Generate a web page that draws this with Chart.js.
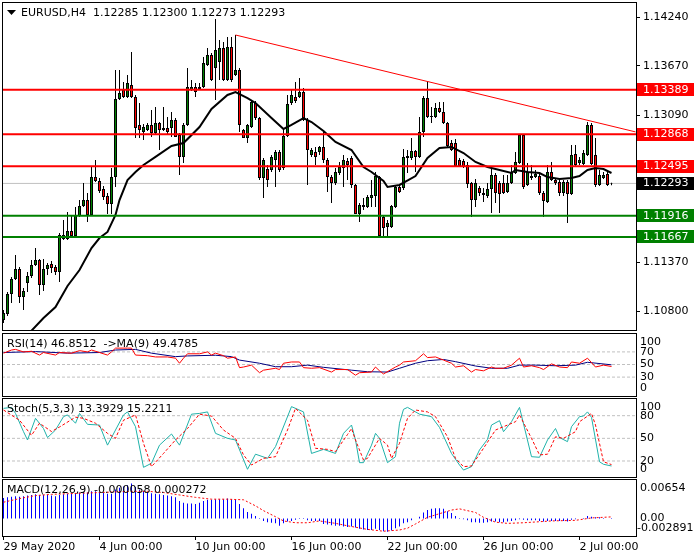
<!DOCTYPE html>
<html>
<head>
<meta charset="utf-8">
<title>EURUSD,H4</title>
<script src="https://cdn.jsdelivr.net/npm/chart.js@4.4.1/dist/chart.umd.min.js"></script>
<style>
  html, body { margin: 0; padding: 0; background: #fff; }
  body { position: relative; width: 700px; height: 560px; overflow: hidden; }
  canvas { position: absolute; left: 0; }
</style>
</head>
<body>
<canvas id="mainChart" width="700" height="332" style="top:0px"></canvas>
<canvas id="rsiChart" width="700" height="65" style="top:332px"></canvas>
<canvas id="stochChart" width="700" height="81" style="top:397px"></canvas>
<canvas id="macdChart" width="700" height="82" style="top:478px"></canvas>
<script>
/* =========================================================
   DATA  (one entry per H4 bar, bar 0 = 29 May 2020 00:00)
========================================================= */
const symbol = "EURUSD,H4";

const opens = [
  1.10695, 1.10765, 1.10999, 1.11175, 1.11292, 1.10964, 1.11128, 1.11210, 1.11338, 1.11397,
  1.11105, 1.11292, 1.11350, 1.11315, 1.11257, 1.11643, 1.11643, 1.11736, 1.11678, 1.11912,
  1.12029, 1.12099, 1.11924, 1.12368, 1.12322, 1.12228, 1.12146, 1.12052, 1.12368, 1.13281,
  1.13386, 1.13304, 1.13445, 1.13304, 1.12977, 1.12895, 1.12918, 1.12977, 1.12883, 1.13000,
  1.12918, 1.12941, 1.12941, 1.13035, 1.12860, 1.12603, 1.12977, 1.13386, 1.13421, 1.13398,
  1.13421, 1.13679, 1.13796, 1.13643, 1.13714, 1.13877, 1.13503, 1.13889, 1.13562, 1.13620,
  1.12918, 1.12825, 1.12953, 1.13234, 1.13058, 1.12357, 1.12462, 1.12450, 1.12567, 1.12661,
  1.12474, 1.12848, 1.13234, 1.13304, 1.13304, 1.13363, 1.13035, 1.12626, 1.12661, 1.12661,
  1.12720, 1.12567, 1.12368, 1.12298, 1.12415, 1.12474, 1.12556, 1.12591, 1.12275, 1.11935,
  1.12017, 1.12017, 1.12123, 1.12146, 1.12368, 1.11900, 1.11783, 1.11783, 1.12017, 1.12251,
  1.12240, 1.12591, 1.12591, 1.12673, 1.12603, 1.12895, 1.13292, 1.13082, 1.13070, 1.13175,
  1.13129, 1.13000, 1.12766, 1.12766, 1.12567, 1.12556, 1.12509, 1.12298, 1.12099, 1.12240,
  1.12181, 1.12146, 1.12228, 1.12392, 1.12298, 1.12298, 1.12193, 1.12298, 1.12415, 1.12532,
  1.12860, 1.12275, 1.12357, 1.12368, 1.12380, 1.12181, 1.12076, 1.12427, 1.12333, 1.12310,
  1.12181, 1.12310, 1.12169, 1.12638, 1.12532, 1.12521, 1.12626, 1.12977, 1.12626, 1.12275,
  1.12357, 1.12403, 1.12285
];
const highs = [
  1.10812, 1.11023, 1.11198, 1.11455, 1.11315, 1.11070, 1.11257, 1.11397, 1.11537, 1.11409,
  1.11409, 1.11362, 1.11385, 1.11338, 1.11713, 1.11865, 1.11959, 1.11924, 1.12017, 1.12099,
  1.12298, 1.12181, 1.12485, 1.12567, 1.12357, 1.12263, 1.12181, 1.12474, 1.13620, 1.13620,
  1.13480, 1.13562, 1.13831, 1.13328, 1.13234, 1.12988, 1.13000, 1.13152, 1.13187, 1.13012,
  1.13187, 1.13070, 1.13129, 1.13058, 1.12883, 1.13000, 1.13643, 1.13503, 1.13468, 1.13468,
  1.13772, 1.13877, 1.13819, 1.14217, 1.13971, 1.13948, 1.14006, 1.14006, 1.14030, 1.13643,
  1.12930, 1.12988, 1.13269, 1.13257, 1.13070, 1.12591, 1.12509, 1.12626, 1.12684, 1.12684,
  1.12941, 1.13328, 1.13386, 1.13480, 1.13526, 1.13410, 1.13058, 1.12708, 1.12720, 1.12731,
  1.12918, 1.12591, 1.12392, 1.12474, 1.12544, 1.12626, 1.12591, 1.12614, 1.12286, 1.12064,
  1.12123, 1.12158, 1.12333, 1.12427, 1.12380, 1.11924, 1.11865, 1.12041, 1.12275, 1.12275,
  1.12696, 1.12684, 1.12825, 1.12684, 1.13070, 1.13316, 1.13480, 1.13187, 1.13234, 1.13246,
  1.13246, 1.13012, 1.12801, 1.12813, 1.12591, 1.12579, 1.12544, 1.12310, 1.12345, 1.12263,
  1.12240, 1.12298, 1.12485, 1.12415, 1.12322, 1.12392, 1.12392, 1.12509, 1.12661, 1.12871,
  1.12871, 1.12532, 1.12509, 1.12450, 1.12403, 1.12205, 1.12509, 1.12544, 1.12357, 1.12333,
  1.12333, 1.12333, 1.12743, 1.12743, 1.12603, 1.12684, 1.13012, 1.13000, 1.12825, 1.12450,
  1.12427, 1.12450, 1.12300
];
const lows = [
  1.10660, 1.10742, 1.10894, 1.11163, 1.10894, 1.10812, 1.11023, 1.11187, 1.11327, 1.10988,
  1.11034, 1.11222, 1.11245, 1.11222, 1.11140, 1.11631, 1.11631, 1.11666, 1.11666, 1.11900,
  1.12017, 1.11842, 1.11912, 1.12310, 1.12181, 1.12099, 1.11935, 1.11935, 1.12251, 1.13269,
  1.13292, 1.13292, 1.13292, 1.12825, 1.12825, 1.12801, 1.12906, 1.12836, 1.12871, 1.12684,
  1.12906, 1.12860, 1.12836, 1.12836, 1.12392, 1.12532, 1.12965, 1.13374, 1.13304, 1.13386,
  1.13410, 1.13667, 1.13491, 1.13269, 1.13503, 1.13491, 1.13491, 1.13480, 1.13550, 1.12895,
  1.12825, 1.12766, 1.12941, 1.13035, 1.12333, 1.12123, 1.12251, 1.12427, 1.12251, 1.12427,
  1.12450, 1.12836, 1.13211, 1.13234, 1.13292, 1.13023, 1.12275, 1.12603, 1.12509, 1.12626,
  1.12532, 1.12193, 1.12064, 1.12275, 1.12392, 1.12251, 1.12333, 1.12240, 1.11935, 1.11842,
  1.11982, 1.12006, 1.12017, 1.12017, 1.11678, 1.11678, 1.11678, 1.11771, 1.12006, 1.12181,
  1.12216, 1.12415, 1.12567, 1.12427, 1.12591, 1.12836, 1.13058, 1.13000, 1.13058, 1.13117,
  1.12988, 1.12720, 1.12673, 1.12485, 1.12485, 1.12474, 1.12240, 1.11900, 1.12017, 1.12146,
  1.12076, 1.12123, 1.11947, 1.12064, 1.11947, 1.12169, 1.12181, 1.12286, 1.12403, 1.12521,
  1.12228, 1.12263, 1.12333, 1.12357, 1.12158, 1.11900, 1.12064, 1.12322, 1.12275, 1.12146,
  1.12146, 1.11830, 1.12158, 1.12497, 1.12509, 1.12509, 1.12614, 1.12509, 1.12251, 1.12263,
  1.12345, 1.12263, 1.12273
];
const closes = [
  1.10777, 1.10999, 1.11175, 1.11292, 1.10964, 1.11034, 1.11210, 1.11338, 1.11397, 1.11105,
  1.11292, 1.11338, 1.11303, 1.11257, 1.11690, 1.11690, 1.11736, 1.11678, 1.11912, 1.12029,
  1.12099, 1.11924, 1.12368, 1.12322, 1.12205, 1.12134, 1.12052, 1.12368, 1.13281, 1.13351,
  1.13304, 1.13468, 1.13304, 1.12941, 1.12918, 1.12953, 1.12977, 1.12883, 1.13000, 1.12918,
  1.12941, 1.12895, 1.13035, 1.12836, 1.12603, 1.12977, 1.13421, 1.13421, 1.13363, 1.13421,
  1.13702, 1.13796, 1.13503, 1.13854, 1.13877, 1.13503, 1.13889, 1.13503, 1.13620, 1.12977,
  1.12825, 1.12977, 1.13246, 1.13058, 1.12357, 1.12567, 1.12333, 1.12603, 1.12661, 1.12450,
  1.12848, 1.13222, 1.13328, 1.13257, 1.13363, 1.13035, 1.12684, 1.12684, 1.12603, 1.12720,
  1.12567, 1.12368, 1.12298, 1.12427, 1.12485, 1.12567, 1.12509, 1.12275, 1.11935, 1.12041,
  1.12041, 1.12134, 1.12158, 1.12380, 1.11678, 1.11771, 1.11830, 1.12029, 1.12251, 1.12193,
  1.12603, 1.12614, 1.12673, 1.12603, 1.12895, 1.13292, 1.13070, 1.13070, 1.13175, 1.13129,
  1.13000, 1.12731, 1.12684, 1.12497, 1.12497, 1.12485, 1.12286, 1.12099, 1.12298, 1.12181,
  1.12158, 1.12228, 1.12392, 1.12181, 1.12169, 1.12181, 1.12298, 1.12415, 1.12544, 1.12860,
  1.12251, 1.12427, 1.12380, 1.12403, 1.12181, 1.12087, 1.12427, 1.12333, 1.12298, 1.12181,
  1.12310, 1.12169, 1.12626, 1.12509, 1.12567, 1.12649, 1.12977, 1.12521, 1.12275, 1.12392,
  1.12392, 1.12275, 1.12293
];

// moving average on price (black line), read at these bars
const maBars = [7, 10, 13, 16, 19, 22, 24, 26, 28, 29, 31, 33, 35, 38, 42, 45, 49, 52, 56, 58,
  61, 63, 67, 70, 72, 75, 77, 80, 83, 87, 90, 92, 95, 96, 99, 103, 106, 109, 112, 115,
  118, 121, 123, 127, 128, 131, 134, 136, 139, 142, 144, 146, 148, 150, 152];
const maPrices = [1.10570, 1.10718, 1.10847, 1.11093, 1.11280, 1.11537, 1.11654, 1.11725, 1.11924, 1.12099,
  1.12333, 1.12427, 1.12509, 1.12603, 1.12731, 1.12766, 1.12953, 1.13164, 1.13328, 1.13363,
  1.13292, 1.13234, 1.13058, 1.12930, 1.12977, 1.13058, 1.13012, 1.12906, 1.12778, 1.12684,
  1.12485, 1.12427, 1.12322, 1.12251, 1.12275, 1.12380, 1.12591, 1.12708, 1.12720, 1.12649,
  1.12544, 1.12485, 1.12462, 1.12415, 1.12450, 1.12427, 1.12415, 1.12368, 1.12345, 1.12357,
  1.12380, 1.12450, 1.12474, 1.12462, 1.12415];

const trendBars = [58, 158];
const trendPrices = [1.14030, 1.12896];
const resistLevels = [1.13389, 1.12868, 1.12495];
const supportLevels = [1.11916, 1.11667];
const bidPrice = 1.12293;
const priceTicks = [1.14240, 1.13670, 1.13090, 1.11370, 1.10800];

const timeTickBars = [0, 24, 48, 72, 96, 120, 144];
const timeLabels = ["29 May 2020", "4 Jun 00:00", "10 Jun 00:00", "16 Jun 00:00", "22 Jun 00:00", "26 Jun 00:00", "2 Jul 00:00"];

// RSI(14) and its MA(9)
const rsiBars = [0, 2, 3, 5, 7, 9, 10, 13, 14, 17, 19, 21, 22, 24, 26, 27, 28, 31, 32, 33,
  36, 38, 41, 43, 44, 45, 46, 49, 51, 52, 53, 55, 56, 58, 59, 60, 62, 64, 65, 68,
  69, 70, 72, 74, 75, 77, 79, 82, 83, 86, 88, 89, 92, 93, 94, 95, 98, 99, 100, 103,
  105, 106, 108, 110, 112, 113, 115, 117, 118, 120, 122, 123, 125, 127, 129, 130, 132, 134, 135, 137,
  139, 141, 142, 144, 146, 148, 150, 152];
const rsiVals = [68, 73, 74, 70, 71, 65, 69, 65, 69, 68, 72, 70, 73, 69, 65, 70, 76, 76, 76, 65,
  64, 62, 62, 60, 52, 60, 67, 67, 70, 65, 68, 64, 60, 62, 45, 46, 49, 37, 41, 44,
  42, 52, 54, 54, 45, 44, 45, 38, 42, 42, 33, 37, 38, 46, 40, 35, 46, 49, 54, 56,
  67, 61, 62, 57, 52, 46, 48, 38, 42, 40, 46, 44, 44, 49, 60, 46, 48, 45, 42, 51,
  46, 45, 54, 52, 60, 46, 49, 46.85];
const rsiMaBars = [0, 8, 16, 24, 28, 33, 37, 43, 46, 53, 57, 59, 64, 68, 72, 76, 80, 87, 91, 96,
  99, 103, 106, 110, 113, 118, 122, 126, 129, 133, 138, 143, 146, 152];
const rsiMaVals = [69, 70.5, 68, 69, 73, 74, 68, 62.5, 63.6, 64.7, 62.5, 57, 52, 46.5, 46.5, 49, 45.5, 41, 38.5, 38,
  44, 52, 56, 58, 54.5, 47.6, 44, 44, 49, 49, 48, 49, 53.5, 49.48];
const rsiLevels = [70, 50, 30];

// Stochastic(5,3,3)
const stochBars = [0, 2, 3, 5, 6, 8, 10, 11, 13, 15, 16, 18, 19, 21, 24, 26, 28, 30, 31, 33,
  35, 37, 39, 42, 44, 47, 49, 51, 53, 56, 58, 61, 63, 66, 68, 72, 75, 77, 80, 83,
  85, 87, 88, 89, 90, 92, 93, 94, 96, 98, 99, 100, 101, 104, 107, 109, 112, 114, 115, 117,
  119, 121, 122, 124, 125, 127, 129, 132, 134, 136, 138, 139, 141, 142, 144, 145, 146, 147, 149, 150,
  152];
const stochMain = [89.7, 91, 83, 58.8, 47.8, 76.5, 63, 51, 61, 78.7, 81, 70, 83, 68.5, 67.6, 41, 61, 81, 85, 65.4,
  11.6, 17, 41, 55.7, 41, 82, 83, 85, 56.6, 50, 47.8, 9, 29, 23.5, 39, 92, 85, 30, 35.4, 30,
  56.6, 67.6, 47.8, 17.8, 17.8, 41, 56.6, 50, 17.8, 25.7, 70, 88.4, 91, 82, 78.7, 64.5, 30, 14.7, 8, 12.5,
  34.6, 48.7, 67.6, 73.4, 58.8, 72, 91, 25.7, 24.9, 47.8, 63, 51, 45.6, 65.4, 78.7, 79.5, 85, 77.8, 19, 15.6,
  13.39];
const stochSigBars = [0, 4, 7, 9, 12, 14, 18, 20, 23, 26, 28, 30, 33, 35, 37, 40, 43, 46, 49, 52,
  55, 58, 60, 62, 65, 68, 71, 73, 76, 78, 81, 83, 86, 87, 88, 90, 91, 94, 96, 97,
  99, 101, 103, 106, 108, 111, 113, 115, 117, 120, 123, 126, 128, 129, 132, 134, 136, 138, 140, 143,
  144, 147, 148, 150, 152];
const stochSig = [87.5, 74, 54, 70, 59, 65, 78, 76.5, 70, 56.6, 50, 74, 81, 43.4, 12.5, 30, 47.8, 63, 82, 79.5,
  61, 50, 28, 14.7, 23.5, 25.7, 61, 89.7, 74, 36.8, 35.4, 32.4, 55, 63, 47.8, 21.3, 23.5, 50, 41, 23.5,
  43.4, 76.5, 87.5, 85, 78.7, 52, 23.5, 12.5, 13.4, 36.8, 61, 67.6, 72, 81, 50, 28, 29, 52, 50, 58.8,
  72, 83, 67.6, 19, 15.22];
const stochLevels = [80, 50, 20];

// MACD(12,26,9): main as histogram (every bar), signal dotted
const macdHist = [
  0.0034, 0.0035, 0.0036, 0.0037, 0.0036, 0.0037, 0.0038, 0.0039, 0.0040, 0.0039,
  0.0039, 0.0039, 0.0038, 0.0037, 0.0039, 0.0040, 0.0041, 0.0041, 0.0042, 0.0043,
  0.0044, 0.0043, 0.0045, 0.0045, 0.0044, 0.0043, 0.0041, 0.0041, 0.0048, 0.0051,
  0.0053, 0.0055, 0.0058, 0.0052, 0.0048, 0.0046, 0.0044, 0.0042, 0.0041, 0.0040,
  0.0039, 0.0038, 0.0037, 0.0035, 0.0029, 0.0026, 0.0025, 0.0025, 0.0024, 0.0026,
  0.0029, 0.0031, 0.0031, 0.0032, 0.0032, 0.0032, 0.0033, 0.0032, 0.0032, 0.0024,
  0.0017, 0.0011, 0.0008, 0.0004, 0.0001, -0.0004, -0.0006, -0.0007, -0.0008, -0.0012,
  -0.0008, -0.0005, -0.0004, -0.0002, 0.0001, 0.0001, -0.0003, -0.0004, -0.0004, -0.0004,
  -0.0009, -0.0010, -0.0011, -0.0012, -0.0012, -0.0013, -0.0014, -0.0013, -0.0015, -0.0017,
  -0.0018, -0.0019, -0.0019, -0.0017, -0.0019, -0.0021, -0.0022, -0.0020, -0.0016, -0.0013,
  -0.0008, -0.0006, -0.0003, 0.0000, 0.0003, 0.0010, 0.0014, 0.0016, 0.0017, 0.0017,
  0.0016, 0.0012, 0.0009, 0.0004, 0.0001, -0.0001, -0.0003, -0.0006, -0.0006, -0.0007,
  -0.0007, -0.0006, -0.0005, -0.0005, -0.0006, -0.0006, -0.0005, -0.0004, -0.0003, -0.0001,
  -0.0002, -0.0003, -0.0003, -0.0003, -0.0004, -0.0005, -0.0004, -0.0004, -0.0004, -0.0004,
  -0.0004, -0.0005, -0.0002, -0.0001, 0.0000, 0.0001, 0.0004, 0.0003, 0.0002, 0.0002,
  0.0001, 0.0000, -0.000058
];
const macdSigBars = [0, 4, 8, 12, 16, 20, 24, 28, 32, 36, 40, 44, 48, 52, 56, 60, 63, 65, 68, 70,
  73, 76, 79, 83, 86, 91, 95, 99, 101, 103, 106, 108, 112, 114, 118, 120, 123, 126, 130, 137,
  143, 147, 152];
const macdSig = [0.0027, 0.0033, 0.0038, 0.0040, 0.0041, 0.0042, 0.0043, 0.0044, 0.0045, 0.0045,
  0.0043, 0.0039, 0.0035, 0.0032, 0.0032, 0.0031, 0.0021, 0.0013, 0.0003, -0.0004,
  -0.0007, -0.0007, -0.0004, -0.0008, -0.0012, -0.0018, -0.0021, -0.0019, -0.0016, -0.0009,
  0.0002, 0.0006, 0.0014, 0.0016, 0.0010, 0.0002, -0.0006, -0.0008, -0.0007, -0.0004,
  -0.0003, 0.0001, 0.000272];

/* =========================================================
   SHARED SETUP
========================================================= */
Chart.defaults.font.family = "'DejaVu Sans', sans-serif";
Chart.defaults.font.size = 11;
Chart.defaults.color = "#000";

const X_MIN = -0.375;
const X_MAX = 158.125;
const FONT = "11px 'DejaVu Sans'";

const pts = (xs, ys) => xs.map((x, i) => ({ x, y: ys[i] }));
const hline = v => [{ x: X_MIN, y: v }, { x: X_MAX, y: v }];
const barIdx = opens.map((_, i) => i);

const hiddenX = { type: "linear", min: X_MIN, max: X_MAX, offset: false, display: false, grid: { offset: false } };

function baseOptions(padding, scales, panel) {
    return {
        responsive: false,
        animation: false,
        events: [],
        layout: { padding },
        elements: { point: { radius: 0 }, line: { tension: 0, fill: false } },
        plugins: { legend: { display: false }, tooltip: { enabled: false }, panel: panel || {} },
        scales
    };
}

function levelLine(v) {
    return { type: "line", data: hline(v), borderColor: "#c0c0c0", borderWidth: 1, borderDash: [3, 2], clip: 0, order: 10 };
}

/* --- frame, title and right side labels of the indicator windows --- */
const panelPlugin = {
    id: "panel",
    afterDraw(chart, args, opts) {
        const { ctx, chartArea: a } = chart;
        const y = chart.scales.y;
        ctx.save();
        ctx.font = FONT;
        ctx.textBaseline = "middle";
        ctx.fillStyle = "#000";
        if (opts.title) ctx.fillText(opts.title, 7, a.top + 11);
        (opts.labels || []).forEach(([v, txt, dx]) => {
            const py = y.getPixelForValue(v);
            const cy = Math.min(Math.max(py, a.top + 9), a.bottom - 8);
            ctx.fillText(txt, a.right + 4 + (dx || 0), cy);
        });
        ctx.strokeStyle = "#000";
        ctx.lineWidth = 1;
        ctx.strokeRect(a.left + 0.5, a.top + 0.5, a.right - a.left, a.bottom - a.top);
        ctx.restore();
    }
};

/* =========================================================
   MAIN PRICE WINDOW
========================================================= */
const priceBoxes = [
    ...resistLevels.map(v => [v, "#ff0000"]),
    [bidPrice, "#000000"],
    ...supportLevels.map(v => [v, "#008000"])
];

const mainDecor = {
    id: "mainDecor",
    afterDraw(chart) {
        const { ctx, chartArea: a } = chart;
        const y = chart.scales.y;
        ctx.save();
        ctx.strokeStyle = "#000";
        ctx.lineWidth = 1;
        ctx.strokeRect(a.left + 0.5, a.top + 0.5, a.right - a.left, a.bottom - a.top);

        // symbol line
        ctx.fillStyle = "#000";
        ctx.beginPath();
        ctx.moveTo(7, a.top + 8);
        ctx.lineTo(16, a.top + 8);
        ctx.lineTo(11.5, a.top + 13);
        ctx.closePath();
        ctx.fill();
        const last = closes.length - 1;
        const ohlc = [opens[last], highs[last], lows[last], closes[last]].map(v => v.toFixed(5)).join(" ");
        ctx.font = FONT;
        ctx.textBaseline = "middle";
        ctx.fillText(symbol + "  " + ohlc, 21, a.top + 11);

        // coloured price tags
        priceBoxes.forEach(([v, col]) => {
            const py = y.getPixelForValue(v);
            ctx.fillStyle = col;
            ctx.fillRect(a.right + 1, Math.round(py - 6.5), 57, 13);
            ctx.fillStyle = "#fff";
            ctx.fillText(v.toFixed(5), a.right + 7, py);
        });
        ctx.restore();
    }
};

new Chart(document.getElementById("mainChart"), {
    type: "bar",
    data: {
        datasets: [
            { type: "line", data: hline(bidPrice), borderColor: "#c0c0c0", borderWidth: 1, clip: 0, order: 12 },
            {
                type: "bar", data: barIdx.map(i => ({ x: i, y: [lows[i], highs[i]] })),
                backgroundColor: "#000", borderWidth: 0, barThickness: 1, grouped: false, inflateAmount: 0, order: 11
            },
            {
                type: "bar", data: barIdx.map(i => ({ x: i, y: [opens[i], closes[i]] })),
                backgroundColor: barIdx.map(i => closes[i] >= opens[i] ? "#008000" : "#ff0000"),
                borderColor: "#000", borderWidth: 1, borderSkipped: false,
                barThickness: 3, grouped: false, inflateAmount: 0, order: 10
            },
            { type: "line", data: pts(maBars, maPrices), borderColor: "#000", borderWidth: 2, clip: 0, order: 9 },
            ...resistLevels.map(v => ({ type: "line", data: hline(v), borderColor: "#ff0000", borderWidth: 2, clip: 0, order: 8 })),
            ...supportLevels.map(v => ({ type: "line", data: hline(v), borderColor: "#008000", borderWidth: 2, clip: 0, order: 8 })),
            { type: "line", data: pts(trendBars, trendPrices), borderColor: "#ff0000", borderWidth: 1, clip: 0, order: 7 }
        ]
    },
    options: baseOptions({ left: 2, top: 2, bottom: 2, right: 0 }, {
        x: hiddenX,
        y: {
            type: "linear", position: "right", min: 1.10578, max: 1.14416, beginAtZero: false,
            grid: { drawOnChartArea: false, drawTicks: true, tickLength: 4, color: "#000" },
            border: { display: true, color: "#000" },
            ticks: { padding: 3, callback: v => Number(v).toFixed(5) },
            afterBuildTicks: s => { s.ticks = priceTicks.map(v => ({ value: v })); },
            afterFit: s => { s.width = 64; s.paddingTop = 0; s.paddingBottom = 0; }
        }
    }),
    plugins: [mainDecor]
});

/* =========================================================
   RSI WINDOW
========================================================= */
new Chart(document.getElementById("rsiChart"), {
    type: "line",
    data: {
        datasets: [
            ...rsiLevels.map(levelLine),
            { data: pts(rsiMaBars, rsiMaVals), borderColor: "#000080", borderWidth: 1, clip: 0, order: 5 },
            { data: pts(rsiBars, rsiVals), borderColor: "#ff0000", borderWidth: 1, clip: 0, order: 4 }
        ]
    },
    options: baseOptions({ left: 2, right: 64, top: 1, bottom: 1 }, {
        x: hiddenX,
        y: { type: "linear", min: 0, max: 100, display: false }
    }, {
        title: "RSI(14) 46.8512  ->MA(9) 49.4785",
        labels: [[100, "100"], [70, "70"], [50, "50"], [30, "30"], [0, "0"]]
    }),
    plugins: [panelPlugin]
});

/* =========================================================
   STOCHASTIC WINDOW
========================================================= */
new Chart(document.getElementById("stochChart"), {
    type: "line",
    data: {
        datasets: [
            ...stochLevels.map(levelLine),
            { data: pts(stochBars, stochMain), borderColor: "#20b2aa", borderWidth: 1, clip: 0, order: 5 },
            { data: pts(stochSigBars, stochSig), borderColor: "#ff0000", borderWidth: 1, borderDash: [3, 2], clip: 0, order: 4 }
        ]
    },
    options: baseOptions({ left: 2, right: 64, top: 1, bottom: 1 }, {
        x: hiddenX,
        y: { type: "linear", min: -1.2, max: 103.4, display: false }
    }, {
        title: "Stoch(5,3,3) 13.3929 15.2211",
        labels: [[100, "100"], [80, "80"], [50, "50"], [20, "20"], [0, "0"]]
    }),
    plugins: [panelPlugin]
});

/* =========================================================
   MACD WINDOW (with the time axis)
========================================================= */
new Chart(document.getElementById("macdChart"), {
    type: "bar",
    data: {
        datasets: [
            {
                type: "bar", data: pts(barIdx, macdHist), backgroundColor: "#0000ff", borderWidth: 0,
                barThickness: 1, grouped: false, inflateAmount: 0, order: 5
            },
            { type: "line", data: pts(macdSigBars, macdSig), borderColor: "#ff0000", borderWidth: 1, borderDash: [2, 2], clip: 0, order: 4 }
        ]
    },
    options: baseOptions({ left: 2, right: 64, top: 1, bottom: 0 }, {
        x: {
            type: "linear", min: X_MIN, max: X_MAX, offset: false, position: "bottom",
            grid: { offset: false, drawOnChartArea: false, drawTicks: true, tickLength: 4, color: "#000" },
            border: { display: false },
            ticks: { autoSkip: false, maxRotation: 0, align: "start", padding: 1, callback: (v, i) => timeLabels[i] || "" },
            afterBuildTicks: s => { s.ticks = timeTickBars.map(v => ({ value: v })); },
            afterFit: s => { s.height = 24; s.paddingLeft = 0; s.paddingRight = 0; }
        },
        y: { type: "linear", min: -0.002891, max: 0.00654, display: false, beginAtZero: false }
    }, {
        title: "MACD(12,26,9) -0.000058 0.000272",
        labels: [[0.00654, "0.00654"], [0, "0.00"], [-0.002891, "-0.002891", -3]]
    }),
    plugins: [panelPlugin]
});
</script>
</body>
</html>
